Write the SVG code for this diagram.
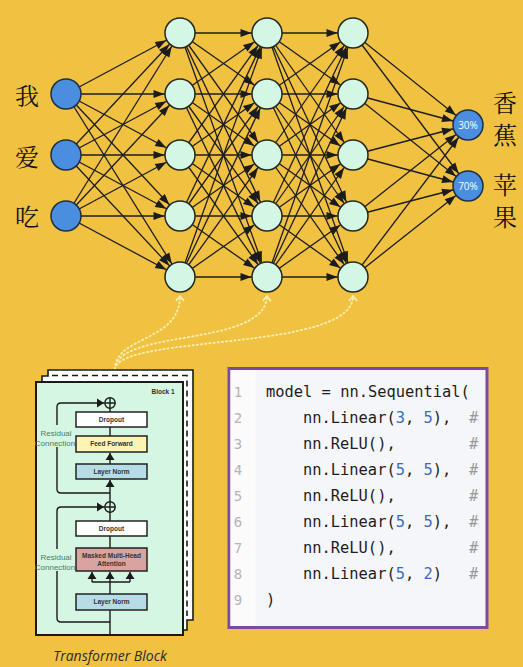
<svg xmlns="http://www.w3.org/2000/svg" width="523" height="667" viewBox="0 0 523 667">
<defs>
<style>
.c{stroke:#1c1c1c;stroke-width:1.3;marker-end:url(#a)}
.in{fill:#4a8ee0;stroke:#1d2f45;stroke-width:1.5}
.hd{fill:#d4f7e5;stroke:#23281f;stroke-width:1.5}
.zh{font-family:"Noto Serif CJK SC","Noto Sans CJK SC",serif;font-size:24px;fill:#111;text-anchor:middle}
.pct{font-family:"Open Sans","Liberation Sans",sans-serif;font-size:10px;fill:#fff;text-anchor:middle}
.dot{fill:none;stroke:#fbf1b4;stroke-width:1.8;stroke-dasharray:1.2 3;stroke-linecap:round;marker-end:url(#d)}
.bx{stroke:#222;stroke-width:1.5}
.bl{font-family:"Liberation Sans",sans-serif;font-size:6.5px;font-weight:bold;fill:#333;text-anchor:middle}
.tl{stroke:#1a1a1a;stroke-width:1.4;fill:none}
.ta{stroke:#1a1a1a;stroke-width:1.4;fill:none;marker-end:url(#t)}
.rc{font-family:"Liberation Sans",sans-serif;font-size:8px;fill:#4e7d5e;text-anchor:middle}
.cd{font-family:"DejaVu Sans Mono","Liberation Mono",monospace;font-size:15.4px;fill:#1d1d1f}
.num{fill:#3b6cc2}
.hs{font-family:"DejaVu Sans Mono","Liberation Mono",monospace;font-size:15.4px;fill:#9a9a9a}
.ln{font-family:"DejaVu Sans Mono","Liberation Mono",monospace;font-size:14px;fill:#b4b4b4;text-anchor:middle}
</style>
<marker id="a" markerUnits="userSpaceOnUse" orient="auto" refX="15.5" refY="0" markerWidth="30" markerHeight="30" overflow="visible">
<path d="M-11,-4 L0,0 L-11,4 z" fill="#1c1c1c"/>
</marker>
<marker id="d" markerUnits="userSpaceOnUse" orient="auto" refX="0" refY="0" markerWidth="20" markerHeight="20" overflow="visible">
<path d="M-5,-4 L0,0 L-5,4" fill="none" stroke="#fbf1b4" stroke-width="1.6"/>
</marker>
<marker id="t" markerUnits="userSpaceOnUse" orient="auto" refX="0" refY="0" markerWidth="20" markerHeight="20" overflow="visible">
<path d="M-7,-4.5 L0,0 L-7,4.5 z" fill="#1a1a1a"/>
</marker>
</defs>
<rect width="523" height="667" fill="#f1c242"/>

<g id="connectors">
<!-- input to L1 -->
<line class="c" x1="66" y1="94" x2="180" y2="33"/>
<line class="c" x1="66" y1="94" x2="180" y2="94"/>
<line class="c" x1="66" y1="94" x2="180" y2="155"/>
<line class="c" x1="66" y1="94" x2="180" y2="216"/>
<line class="c" x1="66" y1="94" x2="180" y2="277"/>
<line class="c" x1="66" y1="155" x2="180" y2="33"/>
<line class="c" x1="66" y1="155" x2="180" y2="94"/>
<line class="c" x1="66" y1="155" x2="180" y2="155"/>
<line class="c" x1="66" y1="155" x2="180" y2="216"/>
<line class="c" x1="66" y1="155" x2="180" y2="277"/>
<line class="c" x1="66" y1="216" x2="180" y2="33"/>
<line class="c" x1="66" y1="216" x2="180" y2="94"/>
<line class="c" x1="66" y1="216" x2="180" y2="155"/>
<line class="c" x1="66" y1="216" x2="180" y2="216"/>
<line class="c" x1="66" y1="216" x2="180" y2="277"/>
<!-- L1 to L2 -->
<line class="c" x1="180" y1="33" x2="267" y2="33"/>
<line class="c" x1="180" y1="33" x2="267" y2="94"/>
<line class="c" x1="180" y1="33" x2="267" y2="155"/>
<line class="c" x1="180" y1="33" x2="267" y2="216"/>
<line class="c" x1="180" y1="33" x2="267" y2="277"/>
<line class="c" x1="180" y1="94" x2="267" y2="33"/>
<line class="c" x1="180" y1="94" x2="267" y2="94"/>
<line class="c" x1="180" y1="94" x2="267" y2="155"/>
<line class="c" x1="180" y1="94" x2="267" y2="216"/>
<line class="c" x1="180" y1="94" x2="267" y2="277"/>
<line class="c" x1="180" y1="155" x2="267" y2="33"/>
<line class="c" x1="180" y1="155" x2="267" y2="94"/>
<line class="c" x1="180" y1="155" x2="267" y2="155"/>
<line class="c" x1="180" y1="155" x2="267" y2="216"/>
<line class="c" x1="180" y1="155" x2="267" y2="277"/>
<line class="c" x1="180" y1="216" x2="267" y2="33"/>
<line class="c" x1="180" y1="216" x2="267" y2="94"/>
<line class="c" x1="180" y1="216" x2="267" y2="155"/>
<line class="c" x1="180" y1="216" x2="267" y2="216"/>
<line class="c" x1="180" y1="216" x2="267" y2="277"/>
<line class="c" x1="180" y1="277" x2="267" y2="33"/>
<line class="c" x1="180" y1="277" x2="267" y2="94"/>
<line class="c" x1="180" y1="277" x2="267" y2="155"/>
<line class="c" x1="180" y1="277" x2="267" y2="216"/>
<line class="c" x1="180" y1="277" x2="267" y2="277"/>
<!-- L2 to L3 -->
<line class="c" x1="267" y1="33" x2="353" y2="33"/>
<line class="c" x1="267" y1="33" x2="353" y2="94"/>
<line class="c" x1="267" y1="33" x2="353" y2="155"/>
<line class="c" x1="267" y1="33" x2="353" y2="216"/>
<line class="c" x1="267" y1="33" x2="353" y2="277"/>
<line class="c" x1="267" y1="94" x2="353" y2="33"/>
<line class="c" x1="267" y1="94" x2="353" y2="94"/>
<line class="c" x1="267" y1="94" x2="353" y2="155"/>
<line class="c" x1="267" y1="94" x2="353" y2="216"/>
<line class="c" x1="267" y1="94" x2="353" y2="277"/>
<line class="c" x1="267" y1="155" x2="353" y2="33"/>
<line class="c" x1="267" y1="155" x2="353" y2="94"/>
<line class="c" x1="267" y1="155" x2="353" y2="155"/>
<line class="c" x1="267" y1="155" x2="353" y2="216"/>
<line class="c" x1="267" y1="155" x2="353" y2="277"/>
<line class="c" x1="267" y1="216" x2="353" y2="33"/>
<line class="c" x1="267" y1="216" x2="353" y2="94"/>
<line class="c" x1="267" y1="216" x2="353" y2="155"/>
<line class="c" x1="267" y1="216" x2="353" y2="216"/>
<line class="c" x1="267" y1="216" x2="353" y2="277"/>
<line class="c" x1="267" y1="277" x2="353" y2="33"/>
<line class="c" x1="267" y1="277" x2="353" y2="94"/>
<line class="c" x1="267" y1="277" x2="353" y2="155"/>
<line class="c" x1="267" y1="277" x2="353" y2="216"/>
<line class="c" x1="267" y1="277" x2="353" y2="277"/>
<!-- L3 to output -->
<line class="c" x1="353" y1="33" x2="468" y2="125"/>
<line class="c" x1="353" y1="33" x2="468" y2="186"/>
<line class="c" x1="353" y1="94" x2="468" y2="125"/>
<line class="c" x1="353" y1="94" x2="468" y2="186"/>
<line class="c" x1="353" y1="155" x2="468" y2="125"/>
<line class="c" x1="353" y1="155" x2="468" y2="186"/>
<line class="c" x1="353" y1="216" x2="468" y2="125"/>
<line class="c" x1="353" y1="216" x2="468" y2="186"/>
<line class="c" x1="353" y1="277" x2="468" y2="125"/>
<line class="c" x1="353" y1="277" x2="468" y2="186"/>
<!-- dotted links from transformer block -->
<path class="dot" d="M115,369 C115,336 180,342 180,296"/>
<path class="dot" d="M115,369 C118,328 265,348 267,296"/>
<path class="dot" d="M115,369 C120,334 353,352 353,296"/>
</g>

<g id="input-nodes">
<g id="in1"><circle class="in" cx="66" cy="94" r="15"/><text class="zh" x="27" y="105">我</text></g>
<g id="in2"><circle class="in" cx="66" cy="155" r="15"/><text class="zh" x="27" y="166">爱</text></g>
<g id="in3"><circle class="in" cx="66" cy="216" r="15"/><text class="zh" x="27" y="226">吃</text></g>
</g>
<g id="layer1">
<g id="h1-1"><circle class="hd" cx="180" cy="33" r="15"/></g>
<g id="h1-2"><circle class="hd" cx="180" cy="94" r="15"/></g>
<g id="h1-3"><circle class="hd" cx="180" cy="155" r="15"/></g>
<g id="h1-4"><circle class="hd" cx="180" cy="216" r="15"/></g>
<g id="h1-5"><circle class="hd" cx="180" cy="277" r="15"/></g>
</g>
<g id="layer2">
<g id="h2-1"><circle class="hd" cx="267" cy="33" r="15"/></g>
<g id="h2-2"><circle class="hd" cx="267" cy="94" r="15"/></g>
<g id="h2-3"><circle class="hd" cx="267" cy="155" r="15"/></g>
<g id="h2-4"><circle class="hd" cx="267" cy="216" r="15"/></g>
<g id="h2-5"><circle class="hd" cx="267" cy="277" r="15"/></g>
</g>
<g id="layer3">
<g id="h3-1"><circle class="hd" cx="353" cy="33" r="15"/></g>
<g id="h3-2"><circle class="hd" cx="353" cy="94" r="15"/></g>
<g id="h3-3"><circle class="hd" cx="353" cy="155" r="15"/></g>
<g id="h3-4"><circle class="hd" cx="353" cy="216" r="15"/></g>
<g id="h3-5"><circle class="hd" cx="353" cy="277" r="15"/></g>
</g>
<g id="output-nodes">
<g id="out1"><circle class="in" cx="468" cy="125" r="15"/><text class="pct" x="468" y="128.5">30%</text>
<text class="zh" x="505" y="112">香</text><text class="zh" x="505" y="144">蕉</text></g>
<g id="out2"><circle class="in" cx="468" cy="186" r="15"/><text class="pct" x="468" y="189.5">70%</text>
<text class="zh" x="505" y="194">苹</text><text class="zh" x="505" y="226">果</text></g>
</g>

<g id="transformer-block">
<path d="M42,383 L42,376 L48,376 L48,370 L193,370 L193,620 L187,620 L187,630 L183,630 L183,383 Z" fill="#fff" stroke="#1a1a1a" stroke-width="1.6"/>
<path d="M52,375.5 L187,375.5 L187,616" fill="none" stroke="#1a1a1a" stroke-width="1.6" stroke-dasharray="6 4"/>
<rect x="36" y="382" width="147" height="253" fill="#d5f6e3" stroke="#1a1a1a" stroke-width="2"/>
<text x="163" y="393.5" class="bl" font-size="7px">Block 1</text>
<!-- main flow lines -->
<line class="tl" x1="110" y1="635" x2="110" y2="610"/>
<line class="tl" x1="110" y1="594" x2="110" y2="582"/>
<line class="tl" x1="92" y1="582" x2="130" y2="582"/>
<line class="ta" x1="92" y1="582" x2="92" y2="572"/>
<line class="ta" x1="110" y1="582" x2="110" y2="572"/>
<line class="ta" x1="130" y1="582" x2="130" y2="572"/>
<line class="tl" x1="110" y1="548" x2="110" y2="536"/>
<line class="tl" x1="110" y1="521" x2="110" y2="512"/>
<line class="ta" x1="110" y1="502" x2="110" y2="480"/>
<line class="ta" x1="110" y1="464" x2="110" y2="453"/>
<line class="tl" x1="110" y1="436" x2="110" y2="427"/>
<line class="tl" x1="110" y1="412" x2="110" y2="408"/>
<!-- residual connections -->
<path class="ta" d="M110,622 L61,622 Q57,622 57,618 L57,511 Q57,507 61,507 L104,507"/>
<path class="ta" d="M110,493 L61,493 Q57,493 57,489 L57,407 Q57,403 61,403 L104,403"/>
<!-- plus circles -->
<g id="add2"><circle cx="110" cy="403" r="5.2" fill="#d5f6e3" stroke="#1a1a1a" stroke-width="1.4"/><path d="M104.8,403 H115.2 M110,397.8 V408.2" stroke="#1a1a1a" stroke-width="1.4"/></g>
<g id="add1"><circle cx="110" cy="507" r="5.2" fill="#d5f6e3" stroke="#1a1a1a" stroke-width="1.4"/><path d="M104.8,507 H115.2 M110,501.8 V512.2" stroke="#1a1a1a" stroke-width="1.4"/></g>
<!-- labels for residual -->
<rect x="39" y="425" width="35" height="22" fill="#d5f6e3"/>
<text class="rc" x="56" y="436">Residual</text>
<text class="rc" x="55" y="446">Connection</text>
<rect x="39" y="549" width="35" height="22" fill="#d5f6e3"/>
<text class="rc" x="56" y="560">Residual</text>
<text class="rc" x="55" y="570">Connection</text>
<!-- boxes -->
<g id="dropout2"><rect class="bx" x="76" y="412" width="71" height="15" fill="#ffffff"/><text class="bl" x="111.5" y="421.8">Dropout</text></g>
<g id="feedforward"><rect class="bx" x="76" y="436" width="71" height="16" fill="#fdf3b3"/><text class="bl" x="111.5" y="446.3">Feed Forward</text></g>
<g id="layernorm2"><rect class="bx" x="76" y="464" width="71" height="15" fill="#b6dde6"/><text class="bl" x="111.5" y="473.8">Layer Norm</text></g>
<g id="dropout1"><rect class="bx" x="76" y="521" width="71" height="15" fill="#ffffff"/><text class="bl" x="111.5" y="530.8">Dropout</text></g>
<g id="mha"><rect class="bx" x="76" y="548" width="71" height="23" fill="#d9a3a0"/><text class="bl" x="111.5" y="557.5">Masked Multi-Head</text><text class="bl" x="111.5" y="566">Attention</text></g>
<g id="layernorm1"><rect class="bx" x="76" y="594" width="71" height="16" fill="#b6dde6"/><text class="bl" x="111.5" y="604.3">Layer Norm</text></g>
<text x="110" y="661" font-family="Open Sans, Liberation Sans, sans-serif" font-style="italic" font-size="14px" fill="#2b2b2b" text-anchor="middle">Transformer Block</text>
</g>

<g id="code-block">
<rect x="229" y="368.5" width="258" height="259" fill="#f4f6f9" stroke="#7a4c9e" stroke-width="3"/>
<rect x="230.5" y="370" width="25" height="256" fill="#fbfbfc"/>
<text class="ln" x="238" y="397">1</text>
<text class="ln" x="238" y="423">2</text>
<text class="ln" x="238" y="449">3</text>
<text class="ln" x="238" y="475">4</text>
<text class="ln" x="238" y="501">5</text>
<text class="ln" x="238" y="527">6</text>
<text class="ln" x="238" y="553">7</text>
<text class="ln" x="238" y="579">8</text>
<text class="ln" x="238" y="605">9</text>
<text class="cd" x="266" y="397">model = nn.Sequential(</text>
<text class="cd" x="303" y="423">nn.Linear(<tspan class="num">3</tspan>, <tspan class="num">5</tspan>),</text>
<text class="cd" x="303" y="449">nn.ReLU(),</text>
<text class="cd" x="303" y="475">nn.Linear(<tspan class="num">5</tspan>, <tspan class="num">5</tspan>),</text>
<text class="cd" x="303" y="501">nn.ReLU(),</text>
<text class="cd" x="303" y="527">nn.Linear(<tspan class="num">5</tspan>, <tspan class="num">5</tspan>),</text>
<text class="cd" x="303" y="553">nn.ReLU(),</text>
<text class="cd" x="303" y="579">nn.Linear(<tspan class="num">5</tspan>, <tspan class="num">2</tspan>)</text>
<text class="cd" x="266" y="605">)</text>
<text class="hs" x="469" y="423">#</text>
<text class="hs" x="469" y="449">#</text>
<text class="hs" x="469" y="475">#</text>
<text class="hs" x="469" y="501">#</text>
<text class="hs" x="469" y="527">#</text>
<text class="hs" x="469" y="553">#</text>
<text class="hs" x="469" y="579">#</text>
</g>
</svg>
